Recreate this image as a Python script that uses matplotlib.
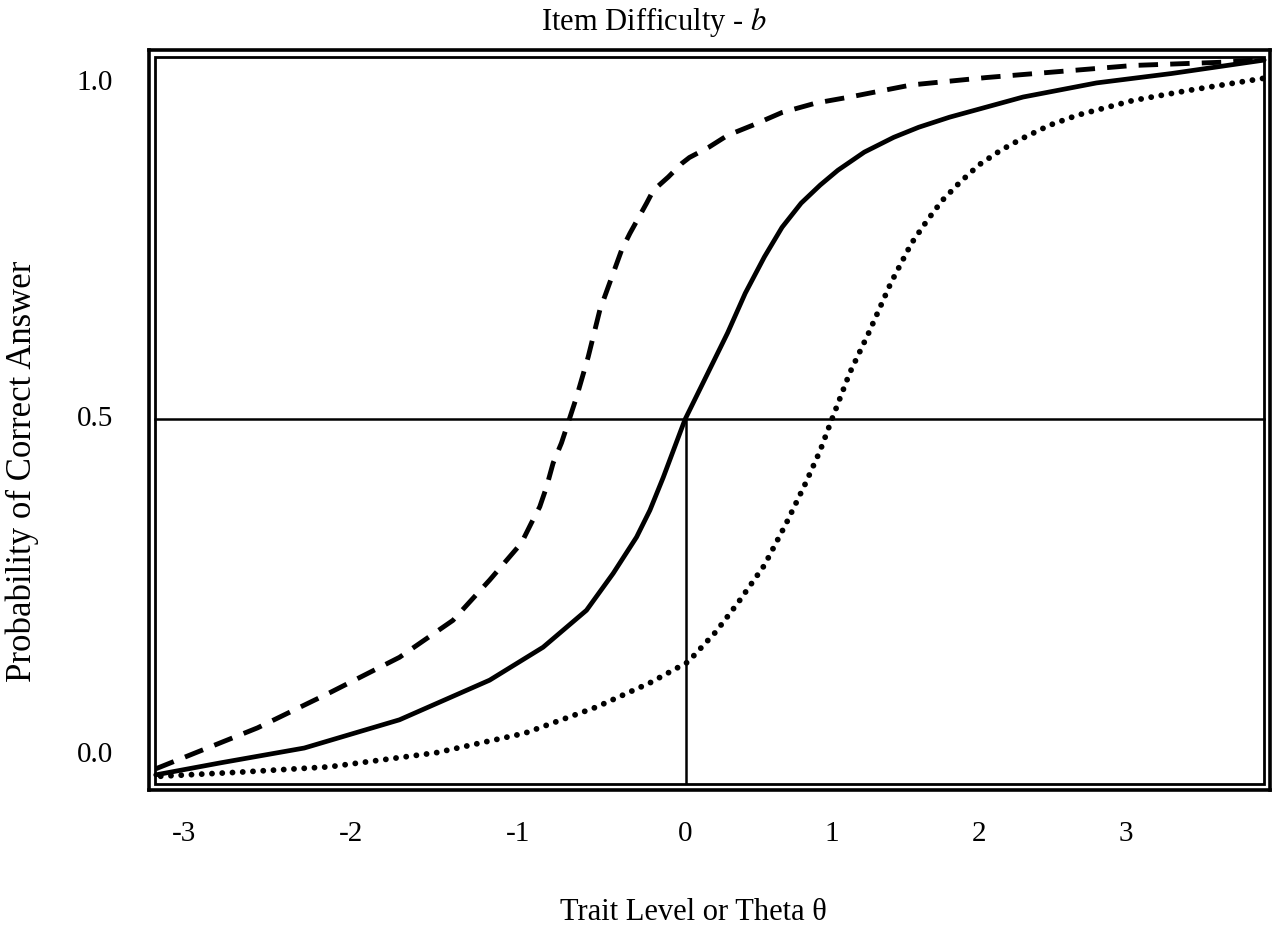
import numpy as np
import matplotlib
matplotlib.use("Agg")
import matplotlib.pyplot as plt
from matplotlib.patches import Rectangle

plt.rcParams['font.family'] = ['Liberation Serif', 'DejaVu Serif']
plt.rcParams['mathtext.fontset'] = 'stix'

# curves (theta, probability)
solid_x = [-3.17, -2.78, -2.28, -1.71, -1.17, -0.85, -0.59, -0.43, -0.29, -0.21,
           -0.13, 0.0, 0.29, 0.41, 0.54, 0.66, 0.79, 0.92, 1.04, 1.22, 1.42,
           1.59, 1.80, 2.05, 2.30, 2.80, 3.31, 3.94]
solid_y = [-0.034, -0.016, 0.006, 0.048, 0.107, 0.156, 0.211, 0.266, 0.320, 0.360,
           0.409, 0.495, 0.624, 0.683, 0.737, 0.781, 0.817, 0.844, 0.866, 0.893, 0.915,
           0.930, 0.945, 0.960, 0.975, 0.996, 1.010, 1.030]

dash_x = [-3.17, -2.99, -2.56, -2.13, -1.71, -1.39, -1.28, -1.17,
          -0.98, -0.92, -0.87, -0.83, -0.79, -0.74, -0.70, -0.65, -0.58, -0.55,
          -0.51, -0.38, -0.33, -0.23, -0.19, -0.10, -0.02, 0.03, 0.16,
          0.29, 0.46, 0.66, 0.89, 1.12, 1.54, 2.05, 2.55, 3.05, 3.68, 3.94]
dash_y = [-0.025, -0.007, 0.036, 0.088, 0.141, 0.196, 0.226, 0.256,
          0.311, 0.341, 0.365, 0.394, 0.430, 0.460, 0.490, 0.528, 0.588, 0.618,
          0.658, 0.747, 0.772, 0.817, 0.836, 0.856, 0.876, 0.885, 0.900,
          0.918, 0.933, 0.952, 0.966, 0.975, 0.993, 1.004, 1.013, 1.022, 1.027, 1.031]

dot_x = [-3.14, -2.67, -2.13, -1.49, -0.96, -0.53, -0.21, 0.02, 0.21,
         0.36, 0.54, 0.69, 0.82, 0.92, 0.99, 1.12, 1.25, 1.40, 1.54, 1.65,
         1.75, 1.87, 2.00, 2.15, 2.30, 2.48, 2.67, 3.05, 3.43, 3.94]
dot_y = [-0.036, -0.030, -0.022, -0.001, 0.028, 0.067, 0.103, 0.134, 0.179,
         0.222, 0.278, 0.341, 0.400, 0.449, 0.490, 0.564, 0.624, 0.698, 0.757, 0.792,
         0.821, 0.848, 0.874, 0.896, 0.914, 0.933, 0.948, 0.970, 0.985, 1.003]

ref_p = 0.495
xticks = [-3, -2, -1, 0, 1, 2, 3]
yticks = [0.0, 0.5, 1.0]
ytick_labels = ['0.0', '0.5', '1.0']

# the drawn axis is wider per unit left of zero than right of it
def fwd(x):
    x = np.asarray(x, dtype=float)
    return np.where(x < 0, x * 167.0 / 147.0, x)

def inv(x):
    x = np.asarray(x, dtype=float)
    return np.where(x < 0, x * 147.0 / 167.0, x)

fig = plt.figure(figsize=(12.73, 9.34), dpi=100)
ax = fig.add_axes([149 / 1273, 1 - 790 / 934, 1121 / 1273, 740 / 934])
ax.set_xscale('function', functions=(fwd, inv))
ax.set_xlim(-3.21, 3.98)
ax.set_ylim(-0.0565, 1.045)

ax.plot(solid_x, solid_y, color='black', lw=3.4, solid_capstyle='round',
        solid_joinstyle='round', zorder=3)
ax.plot(dash_x, dash_y, color='black', lw=3.5, linestyle=(0, (4.0, 2.5)), zorder=3)
ax.plot(dot_x, dot_y, color='black', lw=4.2, linestyle=(0, (0.01, 1.75)),
        dash_capstyle='round', zorder=3)

ax.axhline(ref_p, xmin=0.005, xmax=0.995, color='black', lw=1.8)
ax.vlines(0.01, -0.048, ref_p, color='black', lw=1.8)

# double frame
for s in ax.spines.values():
    s.set_linewidth(2.6)
ax.add_patch(Rectangle((0.0054, 0.0081), 0.9893, 0.9824, transform=ax.transAxes,
                       fill=False, lw=2.0, edgecolor='black', zorder=4, clip_on=False))

ax.set_xticks(xticks)
ax.set_xticklabels([str(t) for t in xticks])
ax.set_yticks(yticks)
ax.set_yticklabels(ytick_labels)
ax.tick_params(axis='both', length=0, labelsize=21)
ax.tick_params(axis='x', pad=22)
ax.tick_params(axis='y', pad=26)

fig.text(654 / 1273, 1 - 22 / 934, 'Item Difficulty - $b$', ha='center', va='center', fontsize=22)
fig.text(693 / 1273, 1 - 913 / 934, 'Trait Level or Theta θ', ha='center', va='center', fontsize=22)
fig.text(22 / 1273, 1 - 471 / 934, 'Probability of Correct Answer', ha='center', va='center',
         rotation=90, fontsize=25)

fig.savefig('out.png', dpi=100)
